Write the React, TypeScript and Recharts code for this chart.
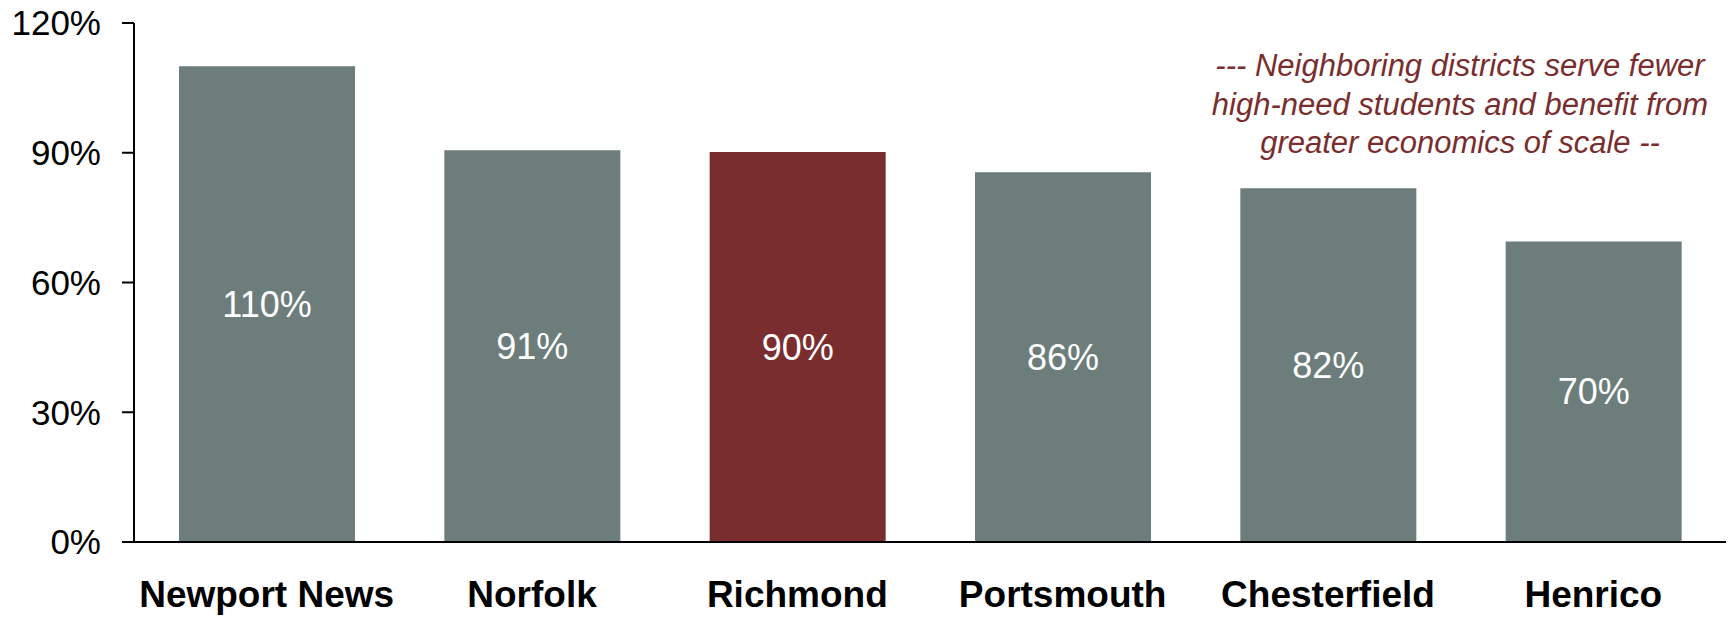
import { BarChart, Bar, XAxis, YAxis, Cell, LabelList } from 'recharts';

const DISTRICTS = ['Newport News', 'Norfolk', 'Richmond', 'Portsmouth', 'Chesterfield', 'Henrico'];
const SHARE = [110, 90.6, 90.2, 85.5, 81.8, 69.5];
const Y_TICKS = [0, 30, 60, 90, 120];
const NOTE_LINES = [
  '--- Neighboring districts serve fewer',
  'high-need students and benefit from',
  'greater economics of scale --',
];

const FONT = '"Liberation Sans", Arial, Helvetica, sans-serif';
const GRAY = '#6c7d7b';
const RED = '#7a2d2e';
const HIGHLIGHT = 'Richmond';

const chartData = DISTRICTS.map((name, i) => ({ name, value: SHARE[i] }));

export default function App() {
  return (
    <div style={{ position: 'absolute', left: 0, top: 0, width: 1729, height: 618, background: '#fff', fontFamily: FONT }}>
      <BarChart
        width={1729}
        height={618}
        data={chartData}
        margin={{ top: 23, right: 3, left: 0, bottom: 0 }}
      >
        <XAxis
          dataKey="name"
          height={76}
          tickLine={false}
          tickSize={0}
          tickMargin={39}
          axisLine={{ stroke: '#000', strokeWidth: 2 }}
          tick={{ fontSize: 37, fontWeight: 700, fill: '#000', fontFamily: FONT }}
          interval={0}
        />
        <YAxis
          width={134}
          domain={[0, 120]}
          ticks={Y_TICKS}
          tickSize={12}
          tickMargin={21}
          axisLine={{ stroke: '#000', strokeWidth: 2 }}
          tickLine={{ stroke: '#000', strokeWidth: 2 }}
          tick={{ fontSize: 35, fill: '#000', fontFamily: FONT }}
          tickFormatter={(v) => `${v}%`}
        />
        <Bar dataKey="value" barSize={176} isAnimationActive={false}>
          {chartData.map((d) => (
            <Cell key={d.name} fill={d.name === HIGHLIGHT ? RED : GRAY} />
          ))}
          <LabelList
            dataKey="value"
            position="center"
            formatter={(v: number) => `${Math.round(v)}%`}
            style={{ fontSize: 36, fill: '#fff', fontFamily: FONT }}
          />
        </Bar>
      </BarChart>

      {/* annotation, top right */}
      <div
        style={{
          position: 'absolute',
          left: 1160,
          top: 47,
          width: 600,
          textAlign: 'center',
          fontStyle: 'italic',
          fontSize: 31,
          lineHeight: '38.5px',
          color: RED,
          fontFamily: FONT,
        }}
      >
        {NOTE_LINES.map((line) => (
          <div key={line}>{line}</div>
        ))}
      </div>
    </div>
  );
}
